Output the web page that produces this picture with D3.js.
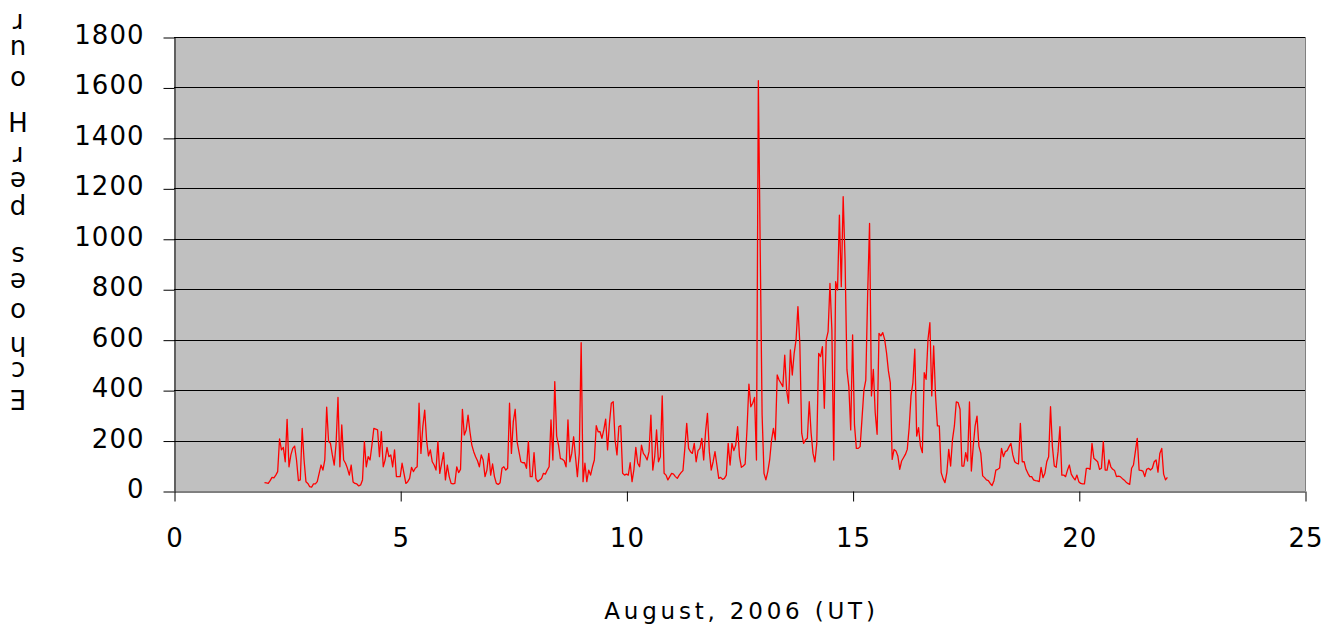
<!DOCTYPE html>
<html>
<head>
<meta charset="utf-8">
<script src="https://cdn.jsdelivr.net/npm/d3@7"></script>
<style>
  html, body { margin: 0; padding: 0; background: #ffffff; }
  svg { display: block; }
  text { font-family: "DejaVu Sans", Verdana, sans-serif; fill: #000; }
</style>
</head>
<body>
<svg id="chart" width="1338" height="633"></svg>
<script>
// Hourly meteor echo counts, starting at 00 UT on 2 August 2006
const startDay = 2;
const hoursPerDay = 24;
const echoesPerHour = [
  33,32,30,41,54,52,63,77,207,163,
  173,116,284,96,143,169,178,123,41,44,
  248,123,37,30,17,15,28,28,37,70,
  103,83,123,332,196,189,143,103,189,371,
  96,262,123,110,90,63,103,36,30,28,
  20,24,44,196,96,136,123,182,248,245,
  242,136,235,96,123,173,136,143,96,163,
  57,57,57,110,70,30,37,50,94,77,
  90,96,348,149,255,321,202,139,163,116,
  103,83,196,70,110,152,44,103,57,30,
  28,30,96,73,86,324,222,242,301,235,
  182,156,136,120,96,143,123,57,83,149,
  63,107,57,30,26,33,90,96,83,90,
  348,149,275,324,196,156,116,112,112,90,
  197,57,57,152,49,37,44,50,70,67,
  83,96,282,123,434,218,182,128,126,120,
  96,282,116,149,215,136,57,149,588,37,
  110,37,83,63,96,123,259,235,235,209,
  242,285,163,268,348,354,202,143,255,259,
  70,63,67,63,112,37,86,173,110,96,
  182,149,139,123,156,301,83,136,242,116,
  136,377,70,63,44,57,70,67,57,50,
  63,73,81,169,268,169,156,149,189,116,
  160,169,209,123,235,308,156,83,116,156,
  103,50,54,46,50,63,189,103,189,160,
  182,255,136,94,99,107,248,424,334,348,
  371,123,1627,950,300,70,44,77,123,202,
  248,202,460,440,427,414,539,400,348,559,
  460,546,599,731,585,229,189,202,209,354,
  229,149,116,189,546,533,572,328,599,632,
  823,638,123,830,797,1094,810,1167,916,480,
  414,242,619,262,169,169,176,288,400,440,
  784,1061,377,482,310,225,625,615,628,601,
  548,476,430,125,165,159,139,86,119,132,
  145,165,251,377,430,562,218,251,178,152,
  469,443,601,667,377,575,377,258,258,73,
  49,33,73,165,99,205,258,353,350,324,
  99,99,152,119,353,79,178,258,297,178,
  150,60,53,44,41,30,22,41,83,86,
  91,169,136,156,160,176,189,143,116,110,
  107,268,116,116,86,70,57,57,44,41,
  40,37,94,53,70,116,136,334,176,99,
  94,156,255,63,63,57,83,103,67,54,
  44,63,37,30,28,28,90,90,86,189,
  130,123,116,86,90,196,83,83,123,96,
  86,81,57,59,57,50,44,36,30,26,
  90,103,156,209,83,82,79,57,86,90,
  83,90,116,123,75,149,169,67,44,54
];

const xTicks = [0, 5, 10, 15, 20, 25];
const yTicks = [0, 200, 400, 600, 800, 1000, 1200, 1400, 1600, 1800];
const xTitle = "August, 2006 (UT)";
const yTitle = "Echoes per Hour";

// vertical centres of the stacked y-title glyphs, bottom ("E") to top ("r"); spaces skipped
const yTitleGlyphCentres = [399, 371, 346, 312, 282, 256, 209, 181, 156, 121, 80, 49, 23];

const svg = d3.select("#chart");
const plot = { left: 174, right: 1305, top: 37, bottom: 491 };

const x = d3.scaleLinear().domain([0, 25]).range([plot.left, plot.right]);
const y = d3.scaleLinear().domain([0, 1800]).range([plot.bottom, plot.top]);

// plot background
svg.append("rect")
  .attr("x", plot.left).attr("y", plot.top)
  .attr("width", plot.right - plot.left)
  .attr("height", plot.bottom - plot.top)
  .attr("fill", "#c0c0c0");

// horizontal gridlines
svg.append("g")
  .selectAll("line")
  .data(yTicks.filter(d => d > 0))
  .join("line")
  .attr("x1", plot.left).attr("x2", plot.right)
  .attr("y1", d => Math.round(y(d)) + 0.5)
  .attr("y2", d => Math.round(y(d)) + 0.5)
  .attr("stroke", "#000").attr("stroke-width", 1);

// right edge of the plot area
svg.append("line")
  .attr("x1", plot.right + 0.5).attr("x2", plot.right + 0.5)
  .attr("y1", plot.top).attr("y2", plot.bottom)
  .attr("stroke", "#808080").attr("stroke-width", 1);

// echo-count line
const line = d3.line()
  .x((d, i) => x(startDay + i / hoursPerDay))
  .y(d => y(d));

svg.append("path")
  .datum(echoesPerHour)
  .attr("d", line)
  .attr("fill", "none")
  .attr("stroke", "#ff0000")
  .attr("stroke-width", 1.3)
  .attr("stroke-linejoin", "round");

// y axis
const yAxis = svg.append("g")
  .attr("transform", `translate(${plot.left + 0.5},0)`)
  .call(d3.axisLeft(y).tickValues(yTicks).tickSize(11).tickSizeOuter(0).tickPadding(19)
    .tickFormat(d3.format("d")));
yAxis.selectAll("path.domain").attr("stroke", "#000");
yAxis.selectAll(".tick line").attr("stroke", "#000")
  .attr("transform", "translate(0,0.5)");
yAxis.selectAll(".tick text")
  .attr("font-family", "'DejaVu Sans', Verdana, sans-serif")
  .attr("font-size", 26)
  .attr("letter-spacing", 1)
  .attr("dy", "0.25em");
yAxis.attr("font-size", null).attr("font-family", null);

// x axis
const xAxis = svg.append("g")
  .attr("transform", `translate(0,${plot.bottom + 0.5})`)
  .call(d3.axisBottom(x).tickValues(xTicks).tickSize(10).tickSizeOuter(0)
    .tickFormat(d3.format("d")));
xAxis.selectAll("path.domain").attr("stroke", "#000");
xAxis.selectAll(".tick line").attr("stroke", "#000")
  .attr("transform", "translate(0.5,0)");
xAxis.selectAll(".tick text")
  .attr("font-family", "'DejaVu Sans', Verdana, sans-serif")
  .attr("font-size", 26)
  .attr("letter-spacing", 1)
  .attr("y", 546 - plot.bottom)
  .attr("dy", 0)
  .attr("dx", 0.5);
xAxis.attr("font-size", null).attr("font-family", null);

// x axis title
svg.append("text")
  .attr("x", (plot.left + plot.right) / 2 + 2)
  .attr("y", 619)
  .attr("text-anchor", "middle")
  .attr("font-size", 23)
  .attr("letter-spacing", 3.8)
  .text(xTitle);

// y axis title: stacked characters, each turned upside down, reading upward
const yTitleG = svg.append("g");
Array.from(yTitle).filter(ch => ch !== " ").forEach((ch, i) => {
  const t = yTitleG.append("text")
    .attr("font-size", 26)
    .text(ch);
  const b = t.node().getBBox();
  const cx = b.x + b.width / 2, cy = b.y + b.height / 2;
  t.attr("transform",
    `translate(18,${yTitleGlyphCentres[i]}) rotate(180) translate(${-cx},${-cy})`);
});
</script>
</body>
</html>
